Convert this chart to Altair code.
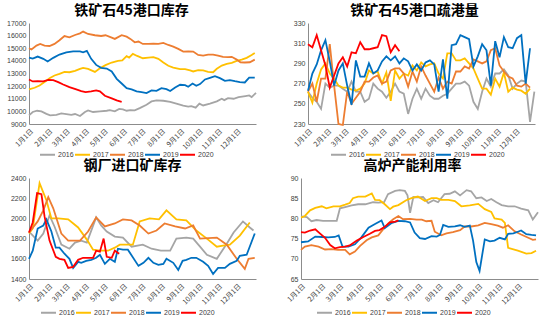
import altair as alt
import pandas as pd

YEARS = ["2016", "2017", "2018", "2019", "2020"]
COLORS = ["#A5A5A5", "#FFC000", "#ED7D31", "#0070C0", "#FF0000"]
MONTH_DAYS = [0, 31, 59, 90, 120, 151, 181, 212, 243, 273, 304, 334]
MONTH_LABELS = ["1月1日", "2月1日", "3月1日", "4月1日", "5月1日", "6月1日",
                "7月1日", "8月1日", "9月1日", "10月1日", "11月1日", "12月1日"]

# ---- Panel 1: 铁矿石45港口库存 (day of year, value)
inv45_2016 = [(0, 9680), (6, 9950), (13, 10050), (20, 10000), (28, 9800), (34, 9680), (44, 9730), (52, 9840),
              (60, 9790), (68, 9730), (74, 9790), (82, 9630), (90, 9950), (95, 10080), (103, 9950), (114, 10000),
              (125, 10050), (130, 10100), (138, 10000), (145, 10200), (151, 10150), (157, 10050), (163, 10100),
              (170, 10080), (178, 10260), (189, 10530), (197, 10790), (205, 10870), (216, 10840), (227, 10760),
              (237, 10610), (248, 10450), (256, 10370), (261, 10420), (268, 10290), (274, 10610), (280, 10470),
              (291, 10610), (302, 10790), (310, 11000), (314, 10890), (320, 11050), (329, 11000), (337, 11130),
              (348, 11210), (354, 11260), (358, 11130), (365, 11470)]
inv45_2017 = [(0, 11740), (9, 11870), (17, 12050), (25, 12320), (33, 12630), (41, 12840), (49, 12970), (57, 13130),
              (65, 13100), (74, 13210), (82, 13370), (87, 13450), (95, 13370), (106, 13130), (114, 13420),
              (123, 13660), (133, 13870), (143, 14000), (150, 14030), (157, 14370), (161, 14260), (167, 14550),
              (174, 14390), (183, 14210), (192, 14260), (200, 14290), (208, 14160), (216, 13870), (224, 13610),
              (232, 13470), (243, 13340), (251, 13340), (259, 13240), (264, 13160), (272, 13260), (280, 13240),
              (288, 13130), (296, 13100), (302, 13370), (310, 13630), (318, 13760), (326, 13840), (334, 14000),
              (342, 14100), (350, 14240), (358, 14470), (363, 14630)]
inv45_2018 = [(0, 15000), (4, 14900), (12, 15210), (18, 15340), (25, 15210), (33, 15180), (41, 15340), (49, 15630),
              (57, 15970), (65, 15870), (74, 16050), (82, 16180), (87, 16320), (95, 16130), (106, 16030),
              (116, 15970), (123, 16030), (133, 15840), (138, 15740), (149, 16030), (157, 15920), (163, 15740),
              (170, 15470), (176, 15530), (183, 15340), (192, 15340), (200, 15370), (208, 15340), (216, 15420),
              (224, 15260), (232, 15130), (240, 14950), (248, 14740), (256, 14760), (264, 14740), (272, 14470),
              (280, 14420), (288, 14500), (296, 14500), (304, 14420), (312, 14320), (320, 14290), (326, 14320),
              (334, 14100), (340, 13890), (347, 13870), (355, 13890), (363, 14100)]
inv45_2019 = [(0, 14260), (6, 14180), (14, 14340), (23, 14160), (30, 13950), (39, 14240), (49, 14500), (60, 14680),
              (71, 14760), (82, 14760), (87, 14680), (93, 14790), (100, 14160), (108, 13680), (116, 13450),
              (125, 13390), (133, 13160), (141, 12580), (149, 12210), (157, 11840), (165, 11740), (173, 11580),
              (181, 11530), (189, 11450), (197, 11660), (205, 11630), (213, 11840), (221, 11760), (227, 11610),
              (235, 11890), (243, 12110), (251, 12080), (256, 11950), (263, 12210), (269, 12030), (275, 12160),
              (283, 12530), (291, 12660), (299, 12790), (307, 12630), (315, 12420), (323, 12470), (331, 12390),
              (339, 12320), (347, 12290), (354, 12680), (363, 12680)]
inv45_2020 = [(0, 12530), (6, 12370), (14, 12390), (23, 12370), (31, 12500), (39, 12470), (47, 12320), (55, 12130),
              (65, 11920), (76, 11740), (84, 11610), (91, 11530), (100, 11580), (108, 11660), (114, 11580),
              (122, 11240), (133, 11030), (141, 10870), (149, 10760)]

# ---- Panel 2: 铁矿石45港口疏港量 (weekly values)
port_2016 = [262, 256, 252, 245, 270, 266, 268, 268, 265, 262, 272, 262, 262, 252, 255, 270, 265, 262, 256, 262,
             270, 262, 260, 240, 255, 265, 255, 265, 258, 255, 255, 258, 260, 265, 270, 270, 272, 268, 252, 245,
             262, 275, 267, 280, 280, 284, 278, 265, 270, 273, 272, 232, 262]
port_2017 = [262, 251, 270, 284, 290, 280, 275, 268, 266, 266, 264, 263, 265, 270, 283, 280, 282, 270, 281, 253,
             283, 275, 280, 278, 288, 283, 291, 287, 289, 290, 280, 275, 300, 300, 293, 293, 295, 290, 285, 275,
             265, 265, 259, 275, 267, 281, 262, 266, 264, 263, 260, 265]
port_2018 = [262, 270, 252, 275, 275, 309, 268, 230, 229, 262, 250, 256, 262, 272, 272, 276, 278, 270, 272, 283,
             285, 285, 280, 267, 282, 272, 287, 278, 270, 262, 276, 265, 272, 270, 282, 282, 287, 285, 294, 292,
             290, 292, 303, 305, 288, 282, 277, 275, 268, 267, 270, 266]
port_2019 = [263, 280, 289, 303, 313, 292, 268, 283, 290, 268, 249, 293, 277, 277, 290, 280, 283, 292, 297, 293,
             297, 290, 295, 292, 283, 289, 283, 291, 293, 289, 262, 294, 255, 308, 309, 318, 316, 314, 287, 297,
             309, 303, 268, 312, 296, 316, 306, 305, 315, 318, 270, 305]
port_2020 = [309, 306, 318, 303, 288, 266, 278, 290, 296, 287, 301, 300, 311, 304, 304, 305, 306, 318, 317, 301,
             308, 302]

# ---- Panel 3: 钢厂进口矿库存 (day of year, value)
mill_2016 = [(0, 1870), (14, 1780), (23, 1850), (33, 2030), (41, 1920), (52, 1740), (65, 1700), (74, 1760),
             (84, 1780), (93, 1760), (108, 2010), (116, 1930), (125, 1870), (138, 1820), (151, 1810), (165, 1720),
             (183, 1740), (197, 1700), (212, 1680), (227, 1680), (237, 1800), (253, 1810), (264, 1800), (275, 1720),
             (286, 1640), (302, 1600), (318, 1750), (329, 1860), (344, 1970), (355, 1910), (361, 1880)]
mill_2017 = [(0, 1850), (6, 1900), (17, 2350), (28, 2180), (36, 2000), (47, 2000), (63, 1990), (79, 1910),
             (93, 1790), (103, 1690), (114, 1680), (127, 1680), (138, 1710), (146, 1740), (159, 1740), (167, 1740),
             (178, 1970), (194, 2000), (209, 1990), (221, 2080), (237, 1990), (253, 1980), (269, 1880), (286, 1800),
             (302, 1720), (312, 1730), (323, 1740), (339, 1830), (355, 1960)]
mill_2018 = [(0, 1860), (14, 1970), (23, 2080), (31, 2210), (39, 2100), (52, 1850), (63, 1780), (82, 1780),
             (95, 1870), (108, 2010), (122, 1920), (138, 1950), (151, 1990), (165, 1980), (178, 1930), (192, 1850),
             (205, 1880), (218, 1950), (235, 1920), (251, 1900), (264, 1930), (275, 1800), (302, 1810), (318, 1740),
             (334, 1600), (347, 1500), (353, 1600), (363, 1610)]
mill_2019 = [(0, 1600), (6, 1680), (14, 1900), (23, 1930), (28, 1990), (36, 1870), (43, 1710), (49, 1710),
             (57, 1650), (65, 1600), (71, 1510), (79, 1570), (84, 1560), (92, 1580), (100, 1590), (108, 1610),
             (114, 1640), (122, 1550), (130, 1600), (138, 1570), (143, 1700), (151, 1690), (159, 1690), (176, 1530),
             (184, 1560), (192, 1610), (200, 1560), (208, 1540), (216, 1550), (221, 1600), (232, 1560), (240, 1490),
             (247, 1580), (253, 1590), (261, 1610), (269, 1610), (280, 1570), (288, 1530), (296, 1450), (304, 1510),
             (315, 1510), (323, 1550), (334, 1580), (339, 1630), (350, 1640), (363, 1850)]
mill_2020 = [(0, 1860), (6, 1960), (13, 2250), (20, 2240), (25, 2020), (33, 1780), (43, 1620), (49, 1600),
             (57, 1590), (63, 1510), (71, 1520), (79, 1590), (87, 1610), (95, 1610), (103, 1610), (108, 1680),
             (114, 1670), (120, 1800), (125, 1620), (133, 1610), (138, 1680), (145, 1650)]

# ---- Panel 4: 高炉产能利用率 (day of year, value)
bf_2016 = [(0, 80.5), (9, 80.3), (16, 79.3), (24, 79.6), (34, 79.4), (45, 79.4), (55, 79.4), (60, 82.5), (68, 82.8),
           (78, 83.2), (88, 83.5), (99, 83.5), (111, 84), (119, 83.9), (128, 84), (134, 86), (145, 86.8), (152, 87),
           (160, 86.8), (164, 85.7), (168, 81.4), (173, 85.3), (180, 85.2), (188, 85.3), (196, 83.8), (204, 84.5),
           (211, 84), (221, 86), (229, 86.1), (237, 86.7), (245, 85.7), (255, 87), (262, 86.7), (270, 85),
           (278, 85.2), (286, 84.3), (293, 84.8), (301, 84), (309, 83.3), (319, 83), (329, 83), (339, 82.4),
           (350, 82), (357, 79.7), (365, 81.5)]
bf_2017 = [(0, 80.2), (6, 80.6), (14, 82), (22, 82.6), (32, 83), (39, 82.5), (50, 83), (60, 83), (68, 83.4),
           (75, 83.8), (80, 85), (88, 85.4), (99, 85.4), (109, 86.2), (114, 84.6), (121, 84.5), (129, 83.5),
           (137, 82.3), (142, 82.9), (150, 83.3), (162, 84.5), (170, 85), (180, 85.4), (191, 84.3), (201, 85),
           (209, 85), (216, 84.6), (227, 84.6), (237, 84.3), (247, 83), (260, 83.2), (273, 83.6), (283, 82.3),
           (293, 81.6), (298, 80), (309, 79.7), (314, 78.9), (319, 72.7), (334, 72), (347, 71.3), (355, 71.4),
           (362, 72)]
bf_2018 = [(0, 72.2), (6, 73), (16, 73.4), (27, 73), (37, 72.3), (47, 72.4), (57, 72.2), (68, 72.2), (75, 71.1),
           (83, 71.8), (91, 73.2), (101, 74.6), (109, 75.3), (119, 75.8), (127, 77.4), (134, 78.7), (142, 79.8),
           (150, 80.6), (157, 79.8), (168, 79.9), (178, 79.7), (186, 79.7), (193, 79.3), (201, 79.4), (206, 76.7),
           (216, 75.8), (224, 76.3), (234, 76.6), (245, 77.1), (252, 78), (262, 78), (273, 78.3), (283, 78.9),
           (293, 78.6), (303, 78.2), (311, 77.7), (319, 78.3), (329, 76.8), (339, 76), (350, 75.2), (357, 74.7),
           (362, 74.8)]
bf_2019 = [(0, 74.1), (11, 74.3), (22, 75.5), (32, 75.4), (42, 75.3), (52, 75.4), (58, 75.8), (64, 73), (73, 73),
           (83, 73.6), (93, 75.3), (104, 77.7), (114, 78.6), (124, 79.5), (129, 77.6), (139, 78.8), (150, 79.4),
           (160, 79.3), (168, 79), (175, 76.5), (183, 75.1), (191, 74.9), (201, 75.6), (209, 75.5), (214, 75.9),
           (219, 78.4), (227, 77.9), (237, 78), (245, 78.3), (252, 77.9), (260, 78.2), (265, 74.5), (270, 69.2),
           (275, 67), (283, 74.8), (291, 74.3), (298, 74.5), (306, 75.2), (314, 74.8), (319, 76.2), (327, 76.3),
           (334, 76.7), (339, 77), (347, 76.1), (355, 75.9), (362, 75.8)]
bf_2020 = [(0, 76.6), (6, 76.5), (14, 77), (22, 77.3), (29, 76.3), (37, 75.2), (45, 73.4), (52, 72.6), (60, 72.9),
           (68, 73), (75, 73.3), (86, 74.5), (96, 75.4), (106, 76.2), (114, 76.9), (121, 77.1), (129, 77.9),
           (137, 79), (145, 79.2), (150, 79.5)]


def pairs_frame(series):
    rows = []
    for year, pts in zip(YEARS, series):
        for d, v in pts:
            rows.append({"day": d, "value": v, "year": year})
    return pd.DataFrame(rows)


def weekly_frame(series):
    rows = []
    for year, vals in zip(YEARS, series):
        for i, v in enumerate(vals):
            rows.append({"day": i * 7, "value": v, "year": year})
    return pd.DataFrame(rows)


label_expr = ("[" + ",".join("'%s'" % s for s in MONTH_LABELS) + "][indexof(["
              + ",".join(str(d) for d in MONTH_DAYS) + "], datum.value)]")

NUM_FONT = "Liberation Sans"
CJK_FONT = "Noto Sans CJK SC"


def panel(df, title, ydom, yvals, width, y_extent, title_dx, leg_x, leg_y, col_pad):
    return alt.Chart(df).mark_line(strokeWidth=1.8).encode(
        x=alt.X("day:Q", scale=alt.Scale(domain=[0, 365], nice=False, zero=False),
                axis=alt.Axis(values=MONTH_DAYS, labelExpr=label_expr, labelAngle=-45,
                              labelAlign="right", labelBaseline="top", title=None, grid=False,
                              ticks=False, domainColor="#8c8c8c", labelFont=CJK_FONT,
                              labelFontSize=7, labelColor="#404040", labelPadding=3,
                              labelOverlap=False, labelBound=False)),
        y=alt.Y("value:Q", scale=alt.Scale(domain=ydom, nice=False, zero=False),
                axis=alt.Axis(values=yvals, format="d", title=None, grid=False, ticks=False,
                              domainColor="#8c8c8c", labelFont=NUM_FONT, labelFontSize=7,
                              labelColor="#404040", labelPadding=3, labelOverlap=False,
                              minExtent=y_extent, maxExtent=y_extent)),
        color=alt.Color("year:N", scale=alt.Scale(domain=YEARS, range=COLORS),
                        legend=alt.Legend(orient="none", legendX=leg_x, legendY=leg_y,
                                          direction="horizontal", title=None, symbolType="stroke",
                                          symbolSize=225, symbolStrokeWidth=2, labelFont=NUM_FONT,
                                          labelFontSize=7, labelColor="#404040", labelOffset=2,
                                          columnPadding=col_pad, padding=0)),
    ).properties(
        width=width, height=101,
        title=alt.TitleParams(title, font=CJK_FONT, fontSize=14, fontWeight="bold", color="#000000",
                              anchor="middle", dx=title_dx, offset=1),
    )


p1 = panel(pairs_frame([inv45_2016, inv45_2017, inv45_2018, inv45_2019, inv45_2020]),
           "铁矿石45港口库存", [9000, 17000], list(range(9000, 17001, 1000)), 227, 29, -11, 10, 123, -3)
p2 = panel(weekly_frame([port_2016, port_2017, port_2018, port_2019, port_2020]),
           "铁矿石45港口疏港量", [230, 330], list(range(230, 331, 20)), 227, 20, -7, 22, 123, -3)
p3 = panel(pairs_frame([mill_2016, mill_2017, mill_2018, mill_2019, mill_2020]),
           "钢厂进口矿库存", [1400, 2400], list(range(1400, 2401, 200)), 227, 29, -10, 11, 126, -3)
p4 = panel(pairs_frame([bf_2016, bf_2017, bf_2018, bf_2019, bf_2020]),
           "高炉产能利用率", [65, 90], list(range(65, 91, 5)), 237, 20, -7, 15, 126, -3)

row1 = alt.hconcat(p1, p2, spacing=28).resolve_scale(color="independent").resolve_legend(color="independent")
row2 = alt.hconcat(p3, p4, spacing=22).resolve_scale(color="independent").resolve_legend(color="independent")

chart = alt.vconcat(row1, row2, spacing=0).resolve_scale(color="independent").resolve_legend(
    color="independent").configure_view(stroke=None).properties(
    padding={"left": 0, "top": 4, "right": 0, "bottom": 0}, background="white")

chart.save("out.html", embed_options={"renderer": "svg", "actions": False})
